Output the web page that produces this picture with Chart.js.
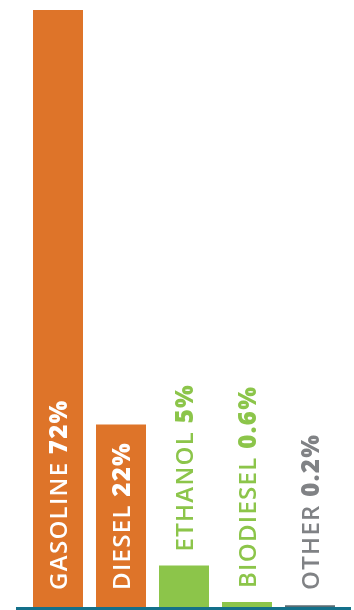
<!DOCTYPE html>
<html>
<head>
<meta charset="utf-8">
<script src="https://cdn.jsdelivr.net/npm/chart.js@4.4.1/dist/chart.umd.min.js"></script>
<style>
  html, body { margin: 0; padding: 0; background: #fff; }
  #wrap { width: 354px; height: 610px; }
</style>
</head>
<body>
<div id="wrap"><canvas id="chart" width="354" height="610"></canvas></div>
<script>
const fuels = ["GASOLINE", "DIESEL", "ETHANOL", "BIODIESEL", "OTHER"];
const shares = [72, 22, 5, 0.6, 0.2];
const barColors = ["#de7429", "#de7429", "#8cc54a", "#8cc54a", "#5b6d73"];
const labelColors = ["#ffffff", "#ffffff", "#8cc54a", "#8cc54a", "#808285"];

const nameFont = "600 24px 'Open Sans'";
const valueFont = "800 24px 'Open Sans'";

// vertical labels: name + share, reading bottom to top
const fuelLabels = {
  id: "fuelLabels",
  afterDatasetsDraw(chart) {
    const ctx = chart.ctx;
    const bars = chart.getDatasetMeta(0).data;
    const base = chart.scales.y.getPixelForValue(0);
    bars.forEach((bar, i) => {
      const name = fuels[i] + " ";
      const value = shares[i] + "%";
      ctx.save();
      ctx.letterSpacing = "1.3px";
      ctx.font = nameFont;
      const w = ctx.measureText(name).width;
      ctx.font = valueFont;
      const total = w + ctx.measureText(value).width;
      // inside the bar when it fits, otherwise just above it
      const inside = base - bar.y > total + 25;
      const start = inside ? base - 17 : Math.min(base - 17, bar.y - 14);
      ctx.translate(bar.x + 8.5, start);
      ctx.rotate(-Math.PI / 2);
      ctx.textAlign = "left";
      ctx.textBaseline = "alphabetic";
      ctx.fillStyle = labelColors[i];
      ctx.font = nameFont;
      ctx.fillText(name, 0, 0);
      ctx.font = valueFont;
      ctx.fillText(value, w, 0);
      ctx.restore();
    });
  }
};

// teal baseline under the bars
const baseLine = {
  id: "baseLine",
  afterDatasetsDraw(chart) {
    const ctx = chart.ctx;
    const y = chart.scales.y.getPixelForValue(0);
    ctx.save();
    ctx.fillStyle = "#13708a";
    ctx.fillRect(16, y, 335, 3);
    ctx.restore();
  }
};

new Chart(document.getElementById("chart"), {
  type: "bar",
  data: {
    labels: fuels,
    datasets: [{
      data: shares,
      backgroundColor: barColors,
      borderWidth: 0,
      barPercentage: 50 / 63,
      categoryPercentage: 1
    }]
  },
  options: {
    responsive: false,
    animation: false,
    layout: { padding: { top: 10, bottom: 3, left: 26.5, right: 12.5 } },
    plugins: { legend: { display: false }, tooltip: { enabled: false } },
    scales: {
      x: { display: false },
      y: { display: false, min: 0, max: 72 }
    }
  },
  plugins: [fuelLabels, baseLine]
});
</script>
</body>
</html>
